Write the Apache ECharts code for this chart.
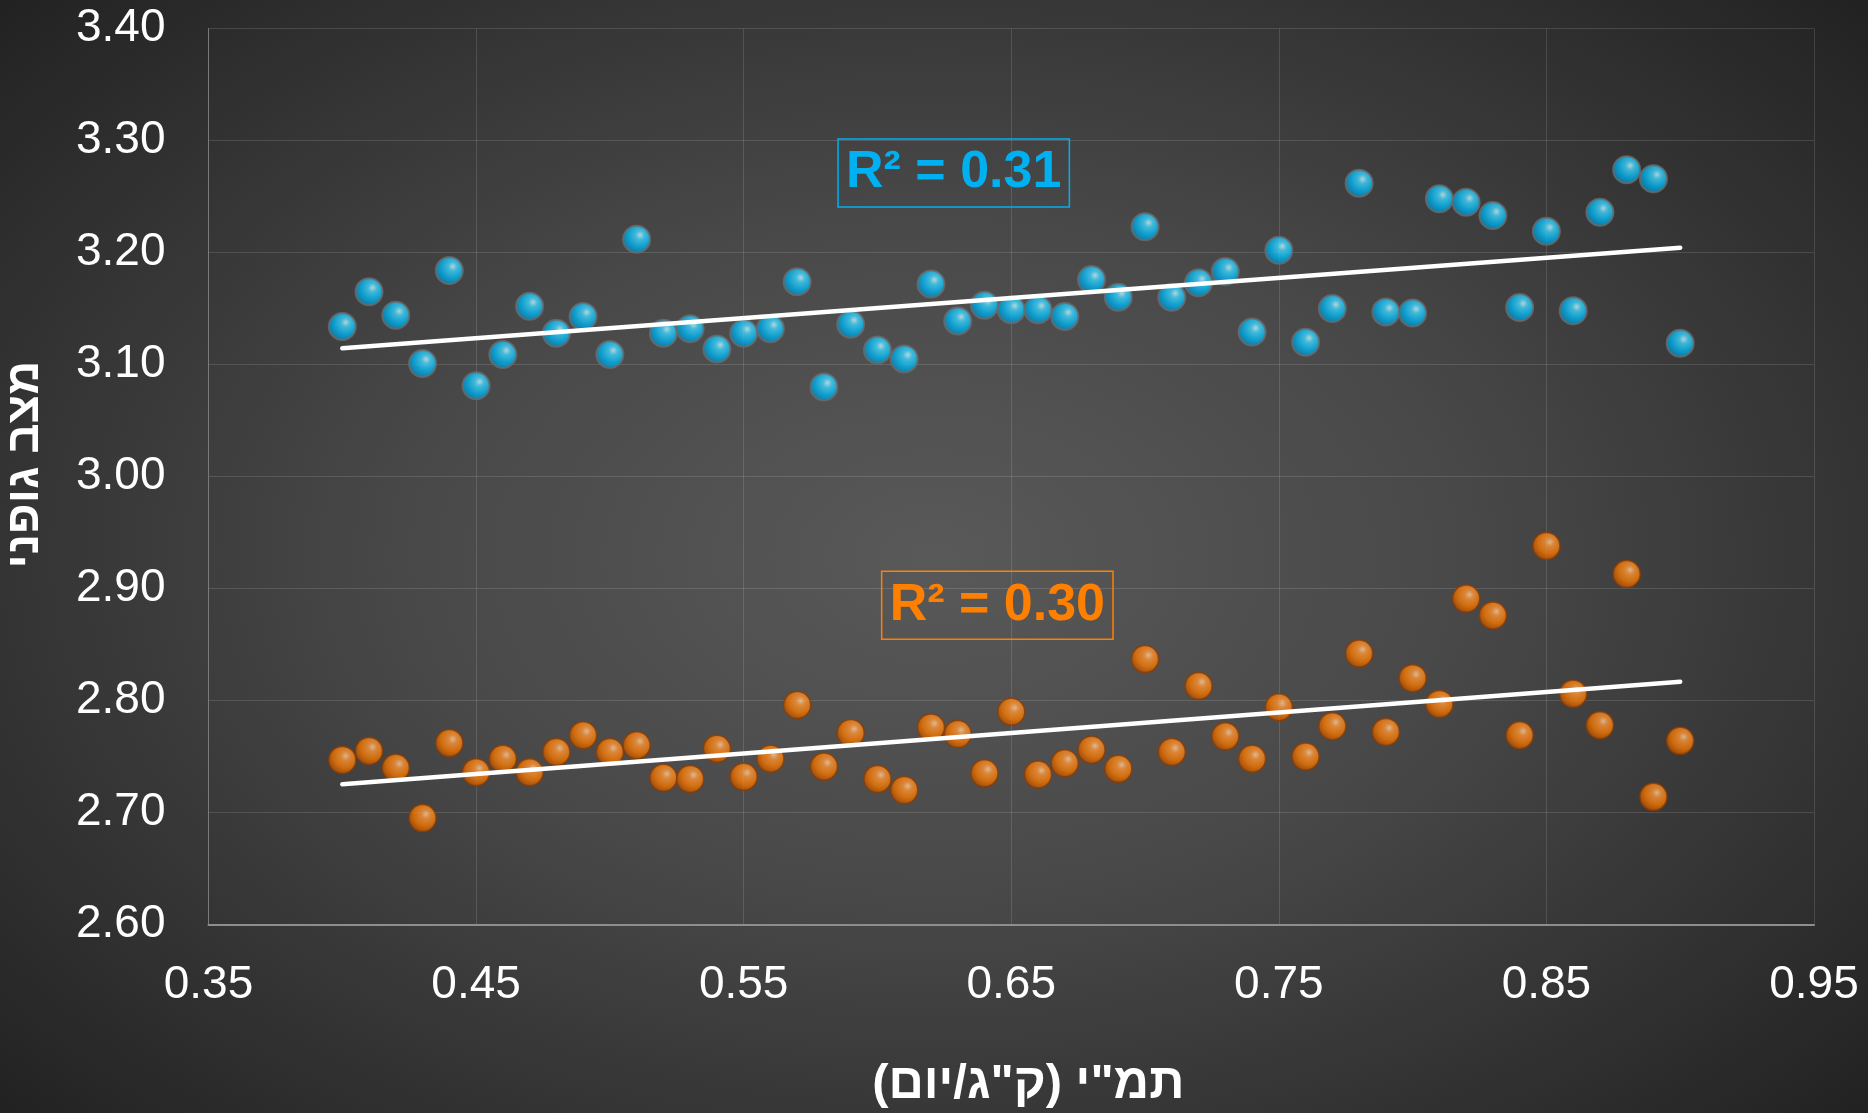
<!DOCTYPE html>
<html><head><meta charset="utf-8">
<script src="https://cdn.jsdelivr.net/npm/echarts@6/dist/echarts.min.js"></script>
<style>
html,body{margin:0;padding:0;width:1868px;height:1113px;overflow:hidden;background:#262626}
#c{width:1868px;height:1113px;background:radial-gradient(ellipse 72% 78% at 50% 50%, #595959 0%, #484848 40%, #2c2c2c 80%, #1e1e1e 100%);}
</style>
</head><body><div id="c"></div>
<script>
const xValues = [0.40,0.41,0.42,0.43,0.44,0.45,0.46,0.47,0.48,0.49,0.50,0.51,0.52,0.53,0.54,0.55,0.56,0.57,0.58,0.59,0.60,0.61,0.62,0.63,0.64,0.65,0.66,0.67,0.68,0.69,0.70,0.71,0.72,0.73,0.74,0.75,0.76,0.77,0.78,0.79,0.80,0.81,0.82,0.83,0.84,0.85,0.86,0.87,0.88,0.89,0.90];
const blueValues = [3.134,3.165,3.144,3.101,3.184,3.081,3.109,3.152,3.128,3.143,3.109,3.212,3.128,3.132,3.114,3.128,3.132,3.174,3.080,3.136,3.113,3.105,3.172,3.139,3.153,3.149,3.149,3.143,3.176,3.160,3.223,3.160,3.173,3.183,3.129,3.202,3.120,3.150,3.262,3.147,3.146,3.248,3.245,3.233,3.151,3.219,3.148,3.236,3.274,3.266,3.119];
const orangeValues = [2.747,2.755,2.740,2.695,2.762,2.736,2.748,2.736,2.754,2.769,2.754,2.760,2.731,2.730,2.757,2.732,2.748,2.796,2.741,2.771,2.730,2.720,2.776,2.770,2.735,2.790,2.734,2.744,2.756,2.739,2.837,2.754,2.813,2.768,2.748,2.794,2.750,2.777,2.842,2.772,2.820,2.797,2.891,2.876,2.769,2.938,2.806,2.778,2.913,2.714,2.764];
const blueTrend = [[0.40,3.1145],[0.90,3.2044]];
const orangeTrend = [[0.40,2.7252],[0.90,2.8168]];
const blueR2 = {text:'R² = 0.31', x:0.6285, y:3.271};
const orangeR2 = {text:'R² = 0.30', x:0.6448, y:2.885};
const xAxisTitle = 'תמ"י (ק"ג/יום)\u200F';
const yAxisTitle = 'מצב גופני';
const xRange = {min:0.35, max:0.95, interval:0.1};
const yRange = {min:2.6, max:3.4, interval:0.1};

const FONT = '"Liberation Sans", Arial, sans-serif';
const blueBall = {type:'radial', x:0.62, y:0.36, r:0.7, colorStops:[
  {offset:0,color:'#d0f8ff'},{offset:0.22,color:'#40d6ff'},{offset:0.6,color:'#00b2ee'},{offset:1,color:'#0a7aaa'}]};
const orangeBall = {type:'radial', x:0.62, y:0.36, r:0.7, colorStops:[
  {offset:0,color:'#ffd4a4'},{offset:0.22,color:'#ff9636'},{offset:0.6,color:'#f27600'},{offset:1,color:'#a84800'}]};

function pairs(xs, ys){ return xs.map((x,i)=>[x, ys[i]]); }

const chart = echarts.init(document.getElementById('c'), null, {renderer:'canvas'});
chart.setOption({
  animation:false,
  backgroundColor:'transparent',
  grid:{left:208.5, right:54, top:28.6, bottom:188.5, containLabel:false, outerBoundsMode:'none'},
  xAxis:{
    type:'value', min:xRange.min, max:xRange.max, interval:xRange.interval,
    name:xAxisTitle, nameLocation:'middle', nameGap:135,
    nameTextStyle:{color:'#ffffff', fontSize:49, fontWeight:'bold', fontFamily:FONT, padding:[0,0,0,34]},
    axisLine:{show:true, lineStyle:{color:'#8e8e8e', width:2}},
    axisTick:{show:false},
    splitLine:{show:true, lineStyle:{color:'rgba(255,255,255,0.13)', width:1}},
    axisLabel:{color:'#ffffff', fontSize:46, fontFamily:FONT, margin:38, formatter:v=>v.toFixed(2)}
  },
  yAxis:{
    type:'value', min:yRange.min, max:yRange.max, interval:yRange.interval,
    name:yAxisTitle, nameLocation:'middle', nameGap:160, nameRotate:90,
    nameTextStyle:{color:'#ffffff', fontSize:47, fontWeight:'bold', fontFamily:FONT, padding:[0,0,0,24]},
    axisLine:{show:true, lineStyle:{color:'#7a7a7a', width:1}},
    axisTick:{show:false},
    splitLine:{show:true, lineStyle:{color:'rgba(255,255,255,0.13)', width:1}},
    axisLabel:{color:'#ffffff', fontSize:46, fontFamily:FONT, margin:43, formatter:v=>v.toFixed(2)}
  },
  series:[
    {type:'scatter', name:'blue', data:pairs(xValues, blueValues), symbolSize:27,
     itemStyle:{color:blueBall, borderColor:'#6b6b6b', borderWidth:2}},
    {type:'scatter', name:'orange', data:pairs(xValues, orangeValues), symbolSize:27,
     itemStyle:{color:orangeBall, borderColor:'#8a3c05', borderWidth:1.5}},
    {type:'line', name:'blueTrend', data:blueTrend, symbol:'none',
     lineStyle:{color:'#ffffff', width:4.5, cap:'round'},
     markPoint:{symbol:'rect', symbolSize:1, itemStyle:{color:'rgba(0,0,0,0)'},
       data:[{coord:[blueR2.x, blueR2.y], value:blueR2.text,
         label:{show:true, position:'inside', formatter:blueR2.text, color:'#00b0f0', fontSize:52, fontWeight:'bold', fontFamily:FONT,
           borderColor:'#00b0f0', borderWidth:1.5, padding:[6,8,4,8], lineHeight:58}}]}},
    {type:'line', name:'orangeTrend', data:orangeTrend, symbol:'none',
     lineStyle:{color:'#ffffff', width:4.5, cap:'round'},
     markPoint:{symbol:'rect', symbolSize:1, itemStyle:{color:'rgba(0,0,0,0)'},
       data:[{coord:[orangeR2.x, orangeR2.y], value:orangeR2.text,
         label:{show:true, position:'inside', formatter:orangeR2.text, color:'#ff8000', fontSize:52, fontWeight:'bold', fontFamily:FONT,
           borderColor:'#ff8000', borderWidth:1.5, padding:[6,8,4,8], lineHeight:58}}]}}
  ]
});
</script>
</body></html>
